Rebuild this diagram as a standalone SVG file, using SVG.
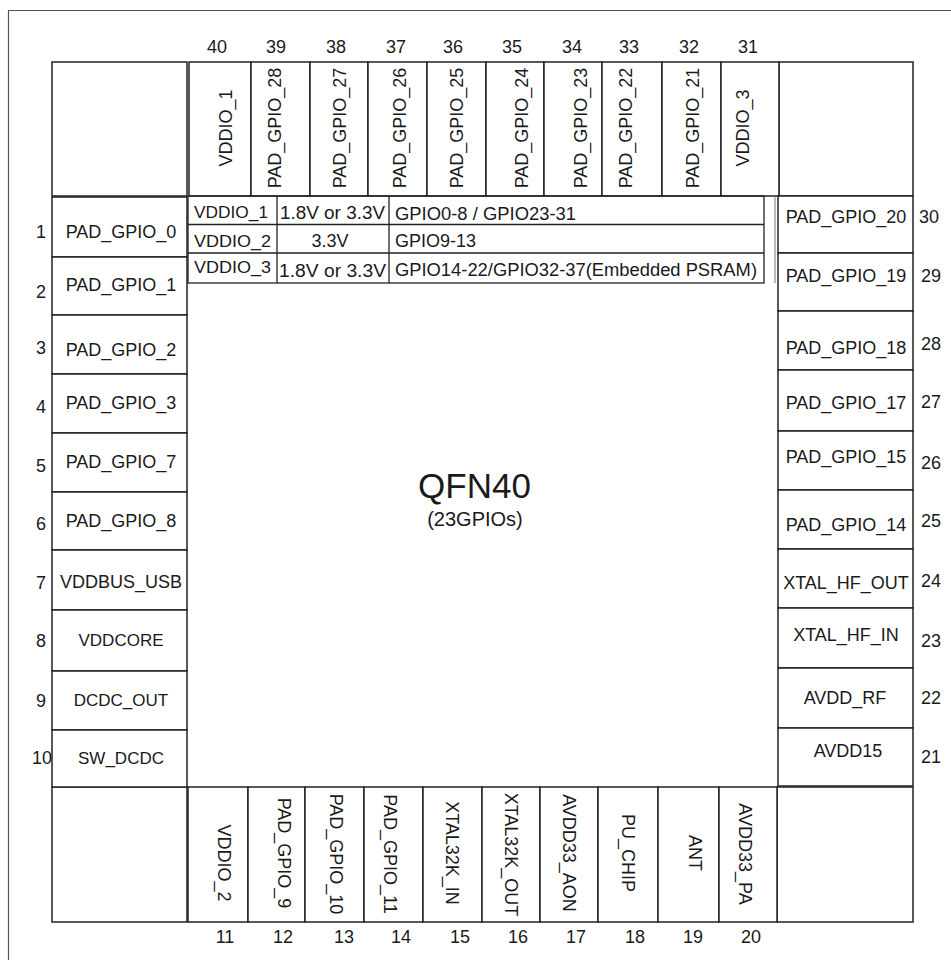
<svg xmlns="http://www.w3.org/2000/svg" width="951" height="960" viewBox="0 0 951 960">
<style>
.bx{fill:#fff;stroke:#222;stroke-width:1.5}
.tb{fill:none;stroke:#222;stroke-width:1.3}
.fr{fill:none;stroke:#555;stroke-width:1.2}
text{font-family:"Liberation Sans",Arial,sans-serif;font-size:18px;fill:#1a1a1a}
.m{text-anchor:middle}
.s{font-size:17px}
</style>
<rect width="951" height="960" fill="#fff"/>
<path class="fr" d="M8.5 960V10.5H951"/>

<g id="corners">
<rect class="bx" x="52" y="62" width="135" height="134"/>
<rect class="bx" x="779" y="62" width="134" height="134"/>
<rect class="bx" x="52" y="787" width="135" height="135"/>
<rect class="bx" x="777" y="787" width="136" height="135"/>
</g>

<g id="top-pins">
<g id="pin40"><rect class="bx" x="189" y="62" width="62" height="134"/><text class="m" x="217" y="53">40</text><text class="m" transform="translate(225.5,128) rotate(-90)" y="6.5">VDDIO_1</text></g>
<g id="pin39"><rect class="bx" x="251" y="62" width="59" height="134"/><text class="m" x="276" y="53">39</text><text class="m" transform="translate(274.5,128) rotate(-90)" y="6.5">PAD_GPIO_28</text></g>
<g id="pin38"><rect class="bx" x="310" y="62" width="58" height="134"/><text class="m" x="336" y="53">38</text><text class="m" transform="translate(339,128) rotate(-90)" y="6.5">PAD_GPIO_27</text></g>
<g id="pin37"><rect class="bx" x="368" y="62" width="59" height="134"/><text class="m" x="396" y="53">37</text><text class="m" transform="translate(399,128) rotate(-90)" y="6.5">PAD_GPIO_26</text></g>
<g id="pin36"><rect class="bx" x="427" y="62" width="59" height="134"/><text class="m" x="453" y="53">36</text><text class="m" transform="translate(456,128) rotate(-90)" y="6.5">PAD_GPIO_25</text></g>
<g id="pin35"><rect class="bx" x="486" y="62" width="58" height="134"/><text class="m" x="512" y="53">35</text><text class="m" transform="translate(521,128) rotate(-90)" y="6.5">PAD_GPIO_24</text></g>
<g id="pin34"><rect class="bx" x="544" y="62" width="58" height="134"/><text class="m" x="572" y="53">34</text><text class="m" transform="translate(580,128) rotate(-90)" y="6.5">PAD_GPIO_23</text></g>
<g id="pin33"><rect class="bx" x="602" y="62" width="60" height="134"/><text class="m" x="629" y="53">33</text><text class="m" transform="translate(625,128) rotate(-90)" y="6.5">PAD_GPIO_22</text></g>
<g id="pin32"><rect class="bx" x="662" y="62" width="59" height="134"/><text class="m" x="689" y="53">32</text><text class="m" transform="translate(692,128) rotate(-90)" y="6.5">PAD_GPIO_21</text></g>
<g id="pin31"><rect class="bx" x="721" y="62" width="58" height="134"/><text class="m" x="748" y="53">31</text><text class="m" transform="translate(742,128) rotate(-90)" y="6.5">VDDIO_3</text></g>
</g>

<g id="left-pins">
<g id="pin1"><rect class="bx" x="52" y="197" width="135" height="60"/><text class="m" x="41" y="238">1</text><text class="m" x="121" y="238">PAD_GPIO_0</text></g>
<g id="pin2"><rect class="bx" x="52" y="257" width="135" height="58"/><text class="m" x="41" y="298">2</text><text class="m" x="121" y="291">PAD_GPIO_1</text></g>
<g id="pin3"><rect class="bx" x="52" y="315" width="135" height="59"/><text class="m" x="41" y="354">3</text><text class="m" x="121" y="356">PAD_GPIO_2</text></g>
<g id="pin4"><rect class="bx" x="52" y="374" width="135" height="59"/><text class="m" x="41" y="413">4</text><text class="m" x="121" y="409">PAD_GPIO_3</text></g>
<g id="pin5"><rect class="bx" x="52" y="433" width="135" height="59"/><text class="m" x="41" y="472">5</text><text class="m" x="121" y="468">PAD_GPIO_7</text></g>
<g id="pin6"><rect class="bx" x="52" y="492" width="135" height="58"/><text class="m" x="41" y="530">6</text><text class="m" x="121" y="527">PAD_GPIO_8</text></g>
<g id="pin7"><rect class="bx" x="52" y="550" width="135" height="60"/><text class="m" x="41" y="589">7</text><text class="m" x="121" y="588">VDDBUS_USB</text></g>
<g id="pin8"><rect class="bx" x="52" y="610" width="135" height="61"/><text class="m" x="41" y="647">8</text><text class="m s" x="121" y="646">VDDCORE</text></g>
<g id="pin9"><rect class="bx" x="52" y="671" width="135" height="59"/><text class="m" x="41" y="707">9</text><text class="m s" x="121" y="706">DCDC_OUT</text></g>
<g id="pin10"><rect class="bx" x="52" y="730" width="135" height="57"/><text class="m" x="42" y="764">10</text><text class="m s" x="121" y="764">SW_DCDC</text></g>
</g>

<g id="right-pins">
<g id="pin30"><rect class="bx" x="778" y="196" width="135" height="57"/><text class="m" x="929" y="223">30</text><text class="m" x="846" y="223">PAD_GPIO_20</text></g>
<g id="pin29"><rect class="bx" x="778" y="253" width="135" height="58"/><text class="m" x="931" y="282">29</text><text class="m" x="846" y="282">PAD_GPIO_19</text></g>
<g id="pin28"><rect class="bx" x="778" y="311" width="135" height="59"/><text class="m" x="931" y="350">28</text><text class="m" x="846" y="354">PAD_GPIO_18</text></g>
<g id="pin27"><rect class="bx" x="778" y="370" width="135" height="61"/><text class="m" x="931" y="408">27</text><text class="m" x="846" y="409">PAD_GPIO_17</text></g>
<g id="pin26"><rect class="bx" x="778" y="431" width="135" height="59"/><text class="m" x="931" y="469">26</text><text class="m" x="846" y="463">PAD_GPIO_15</text></g>
<g id="pin25"><rect class="bx" x="778" y="490" width="135" height="59"/><text class="m" x="931" y="527">25</text><text class="m" x="846" y="531">PAD_GPIO_14</text></g>
<g id="pin24"><rect class="bx" x="778" y="549" width="135" height="59"/><text class="m" x="931" y="587">24</text><text class="m" x="846" y="589">XTAL_HF_OUT</text></g>
<g id="pin23"><rect class="bx" x="778" y="608" width="135" height="60"/><text class="m" x="931" y="647">23</text><text class="m" x="846" y="641">XTAL_HF_IN</text></g>
<g id="pin22"><rect class="bx" x="778" y="668" width="135" height="60"/><text class="m" x="931" y="704">22</text><text class="m" x="845" y="704">AVDD_RF</text></g>
<g id="pin21"><rect class="bx" x="778" y="728" width="135" height="58"/><text class="m" x="931" y="763">21</text><text class="m" x="848" y="757">AVDD15</text></g>
</g>

<g id="bottom-pins">
<g id="pin11"><rect class="bx" x="188" y="787" width="60" height="135"/><text class="m" x="225" y="943">11</text><text class="m" transform="translate(224.7,863) rotate(90)" y="6.5">VDDIO_2</text></g>
<g id="pin12"><rect class="bx" x="248" y="787" width="57" height="135"/><text class="m" x="283" y="943">12</text><text class="m" transform="translate(284.5,853) rotate(90)" y="6.5">PAD_GPIO_9</text></g>
<g id="pin13"><rect class="bx" x="305" y="787" width="59" height="135"/><text class="m" x="344" y="943">13</text><text class="m" transform="translate(336,854) rotate(90)" y="6.5">PAD_GPIO_10</text></g>
<g id="pin14"><rect class="bx" x="364" y="787" width="59" height="135"/><text class="m" x="401" y="943">14</text><text class="m" transform="translate(390,854) rotate(90)" y="6.5">PAD_GPIO_11</text></g>
<g id="pin15"><rect class="bx" x="423" y="787" width="59" height="135"/><text class="m" x="460" y="943">15</text><text class="m" transform="translate(452,853) rotate(90)" y="6.5">XTAL32K_IN</text></g>
<g id="pin16"><rect class="bx" x="482" y="787" width="58" height="135"/><text class="m" x="518" y="943">16</text><text class="m" transform="translate(511.5,854.5) rotate(90)" y="6.5">XTAL32K_OUT</text></g>
<g id="pin17"><rect class="bx" x="540" y="787" width="58" height="135"/><text class="m" x="576" y="943">17</text><text class="m" transform="translate(569,853) rotate(90)" y="6.5">AVDD33_AON</text></g>
<g id="pin18"><rect class="bx" x="598" y="787" width="60" height="135"/><text class="m" x="635" y="943">18</text><text class="m" transform="translate(628,853) rotate(90)" y="6.5">PU_CHIP</text></g>
<g id="pin19"><rect class="bx" x="658" y="787" width="61" height="135"/><text class="m" x="693" y="943">19</text><text class="m" transform="translate(695,853) rotate(90)" y="6.5">ANT</text></g>
<g id="pin20"><rect class="bx" x="719" y="787" width="58" height="135"/><text class="m" x="751" y="943">20</text><text class="m" transform="translate(745,854) rotate(90)" y="6.5">AVDD33_PA</text></g>
</g>

<g id="vddio-table">
<rect class="tb" x="188" y="196" width="576" height="87"/>
<path class="tb" d="M188 224.5H764M188 253H764M277 196V283M389 196V283"/>
<path d="M775 196V283" stroke="#777" stroke-width="1"/>
<text class="s" x="194" y="218" textLength="74" lengthAdjust="spacingAndGlyphs">VDDIO_1</text>
<text x="280" y="219" textLength="105" lengthAdjust="spacingAndGlyphs">1.8V or 3.3V</text>
<text x="395" y="220" textLength="181" lengthAdjust="spacingAndGlyphs">GPIO0-8 / GPIO23-31</text>
<text class="s" x="194" y="247" textLength="77" lengthAdjust="spacingAndGlyphs">VDDIO_2</text>
<text class="m" x="330" y="247">3.3V</text>
<text x="395" y="247">GPIO9-13</text>
<text class="s" x="194" y="273" textLength="77" lengthAdjust="spacingAndGlyphs">VDDIO_3</text>
<text x="279" y="277" textLength="107" lengthAdjust="spacingAndGlyphs">1.8V or 3.3V</text>
<text x="395" y="276" textLength="362" lengthAdjust="spacingAndGlyphs">GPIO14-22/GPIO32-37(Embedded PSRAM)</text>
</g>

<g id="chip-title">
<text class="m" x="474.5" y="498" style="font-size:35px">QFN40</text>
<text class="m" x="475" y="526" style="font-size:20px">(23GPIOs)</text>
</g>
</svg>
